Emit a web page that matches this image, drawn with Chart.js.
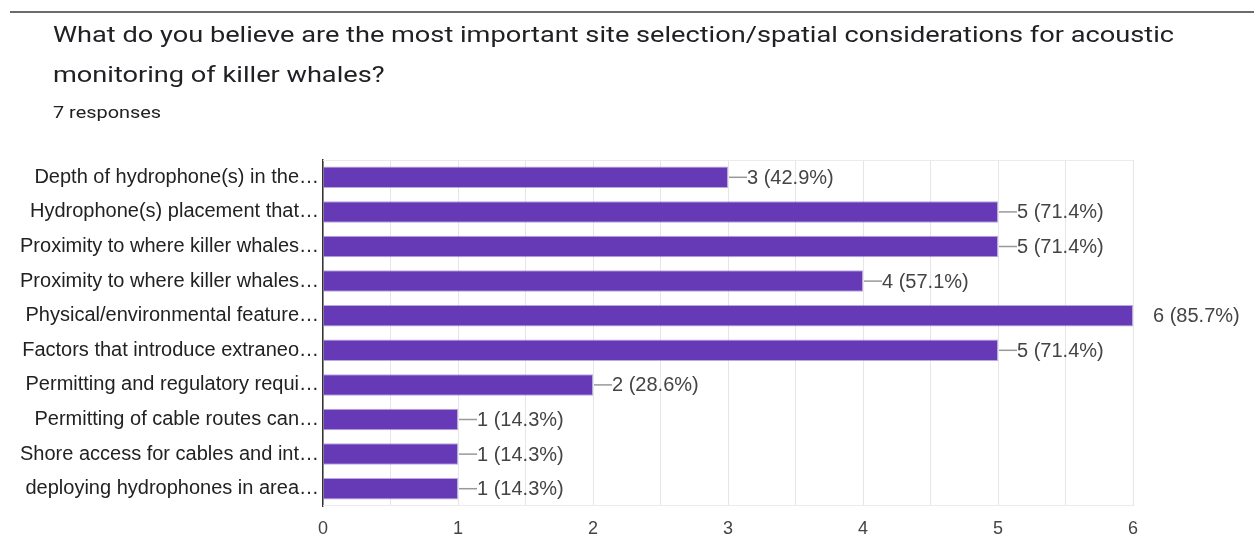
<!DOCTYPE html>
<html>
<head>
<meta charset="utf-8">
<script src="https://cdn.jsdelivr.net/npm/chart.js"></script>
<style>
  html, body { margin: 0; padding: 0; background: #fff; }
  #wrap { position: relative; width: 1254px; height: 538px; overflow: hidden; }
  #topline { position: absolute; left: 10px; right: 0; top: 11px; height: 2px; background: #6b6b6b; }
  #titulo { position: absolute; left: 53px; top: 15px; font-family: Roboto, Arial, sans-serif; font-size: 22px; line-height: 40px; color: #202124; white-space: nowrap; transform: scaleX(1.235); transform-origin: 0 0; }
  #respuestas { position: absolute; left: 53px; top: 102px; font-family: Roboto, Arial, sans-serif; font-size: 17px; color: #202124; transform: scaleX(1.17); transform-origin: 0 0; }
  #grafica { position: absolute; left: 0; top: 0; }
</style>
</head>
<body>
<div id="wrap">
  <canvas id="grafica" width="1254" height="538"></canvas>
  <div id="topline"></div>
  <div id="titulo">What do you believe are the most important site selection/spatial considerations for acoustic<br>monitoring of killer whales?</div>
  <div id="respuestas">7 responses</div>
</div>
<script>
// Datos
const categorias = [
    'Depth of hydrophone(s) in the…',
    'Hydrophone(s) placement that…',
    'Proximity to where killer whales…',
    'Proximity to where killer whales…',
    'Physical/environmental feature…',
    'Factors that introduce extraneo…',
    'Permitting and regulatory requi…',
    'Permitting of cable routes can…',
    'Shore access for cables and int…',
    'deploying hydrophones in area…'
];
const respuestas = [3, 5, 5, 4, 6, 5, 2, 1, 1, 1];
const porcentajes = ['42.9%', '71.4%', '71.4%', '57.1%', '85.7%', '71.4%', '28.6%', '14.3%', '14.3%', '14.3%'];
const ticksX = [0, 1, 2, 3, 4, 5, 6];

const fuente = 'Arial, "Liberation Sans", sans-serif';

// Etiquetas al final de cada barra, con su pequeña línea
const etiquetasBarras = {
    id: 'etiquetasBarras',
    afterDatasetsDraw(chart) {
        const ctx = chart.ctx;
        const area = chart.chartArea;
        const meta = chart.getDatasetMeta(0);
        ctx.save();
        ctx.font = '20px ' + fuente;
        ctx.textBaseline = 'middle';
        ctx.textAlign = 'left';
        meta.data.forEach((barra, i) => {
            const texto = respuestas[i] + ' (' + porcentajes[i] + ')';
            if (area.right - barra.x < 2) {
                ctx.fillStyle = '#444';
                ctx.fillText(texto, barra.x + 20, barra.y + 1);
            } else {
                ctx.strokeStyle = '#999';
                ctx.lineWidth = 1.5;
                ctx.beginPath();
                ctx.moveTo(barra.x + 1, barra.y);
                ctx.lineTo(barra.x + 19, barra.y);
                ctx.stroke();
                ctx.fillStyle = '#444';
                ctx.fillText(texto, barra.x + 19, barra.y + 1);
            }
        });
        ctx.restore();
    }
};

// Bordes suaves arriba y abajo del área
const marco = {
    id: 'marco',
    beforeDatasetsDraw(chart) {
        const ctx = chart.ctx;
        const area = chart.chartArea;
        ctx.save();
        ctx.strokeStyle = '#ebebeb';
        ctx.lineWidth = 1;
        ctx.beginPath();
        ctx.moveTo(area.left, area.top + 0.5);
        ctx.lineTo(area.right, area.top + 0.5);
        ctx.moveTo(area.left, area.bottom - 0.5);
        ctx.lineTo(area.right, area.bottom - 0.5);
        ctx.stroke();
        ctx.restore();
    }
};

new Chart(document.getElementById('grafica'), {
    type: 'bar',
    data: {
        labels: categorias,
        datasets: [{
            data: respuestas,
            backgroundColor: '#6639b6',
            borderColor: 'rgba(140, 110, 200, 0.6)',
            borderWidth: 1,
            categoryPercentage: 1,
            barPercentage: 0.62
        }]
    },
    options: {
        responsive: false,
        animation: false,
        indexAxis: 'y',
        layout: { padding: { top: 160, right: 121, left: 0, bottom: 0 } },
        plugins: {
            legend: { display: false },
            tooltip: { enabled: false }
        },
        scales: {
            x: {
                min: 0,
                max: 6,
                afterFit(scale) { scale.height = 32; },
                afterBuildTicks(scale) {
                    const t = [];
                    ticksX.forEach((v, i) => {
                        t.push({ value: v });
                        if (i < ticksX.length - 1) t.push({ value: v + 0.5 });
                    });
                    scale.ticks = t;
                },
                grid: { color: '#e6e6e6', lineWidth: 1, drawTicks: false },
                border: { display: false },
                ticks: {
                    padding: 12,
                    color: '#444',
                    font: { family: fuente, size: 18 },
                    callback: v => Number.isInteger(v) ? String(v) : ''
                }
            },
            y: {
                afterFit(scale) { scale.width = 323; },
                grid: { display: false, drawTicks: false },
                border: { display: true, color: '#333', width: 1.5 },
                ticks: {
                    padding: 4,
                    color: '#222',
                    font: { family: fuente, size: 20 }
                }
            }
        }
    },
    plugins: [marco, etiquetasBarras]
});
</script>
</body>
</html>
